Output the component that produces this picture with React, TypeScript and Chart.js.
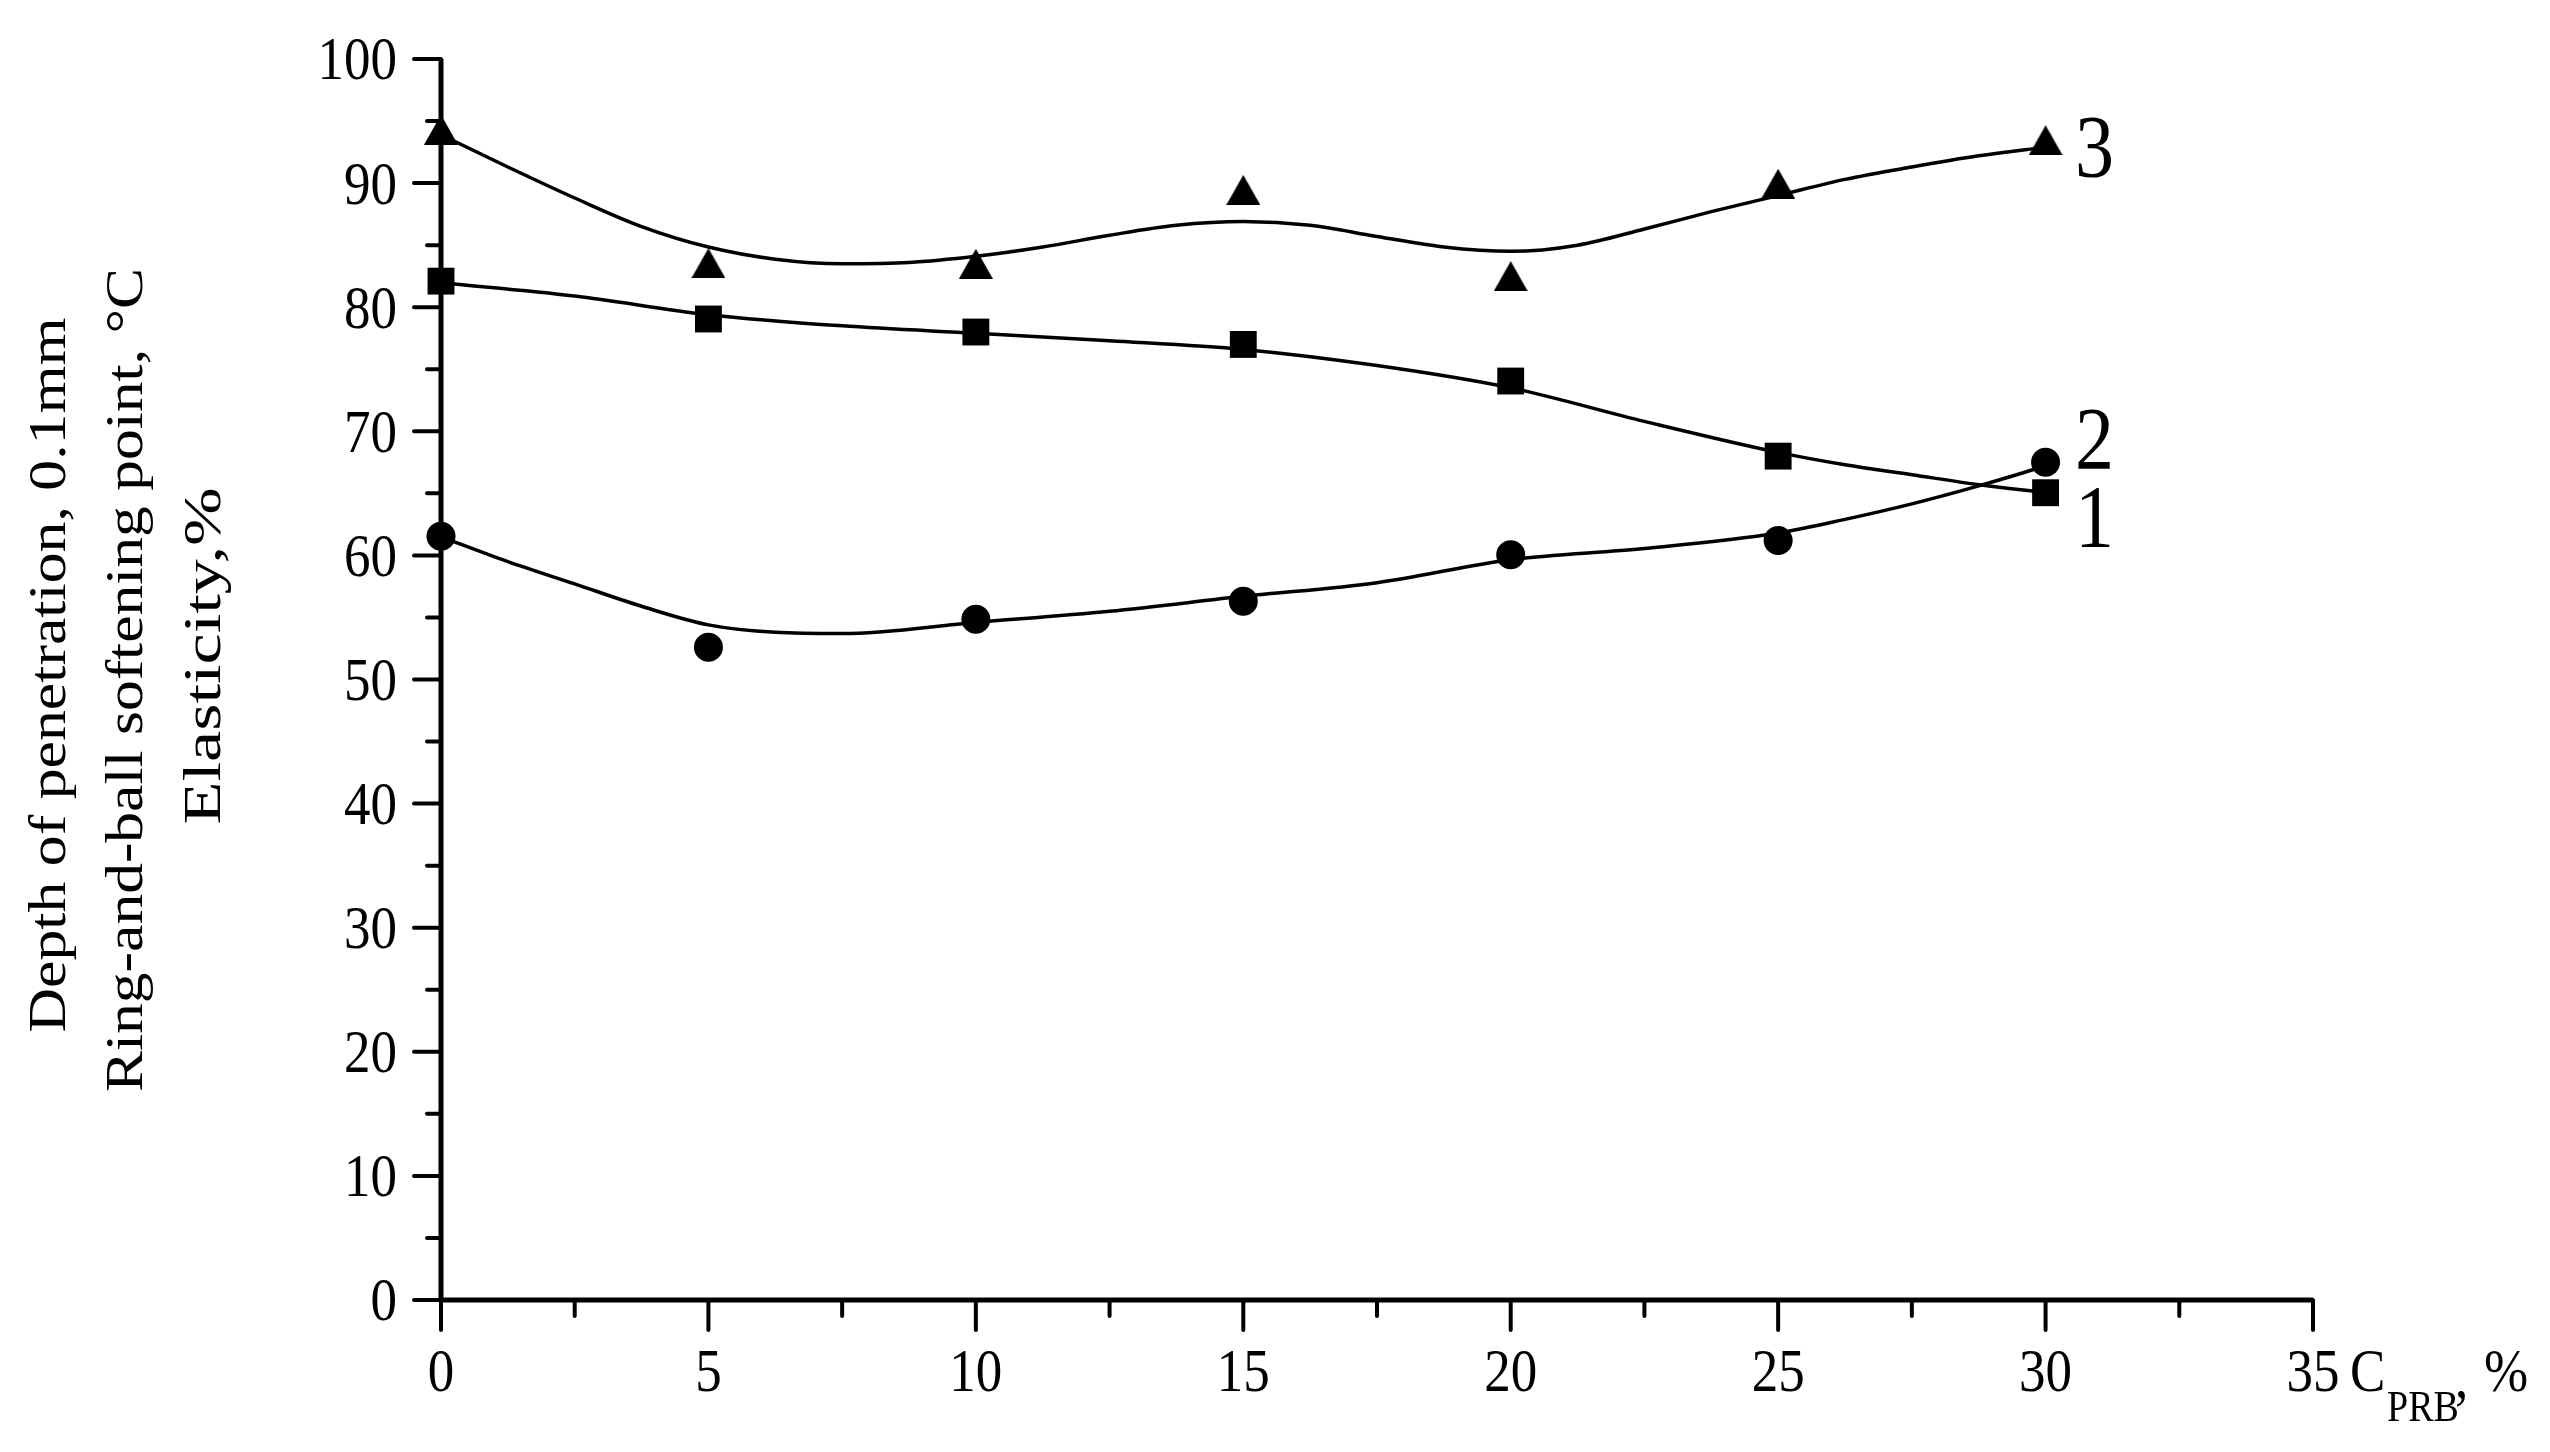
import React, { useEffect, useRef } from "react";
import { Chart, registerables } from "chart.js";

Chart.register(...registerables);

// ---- data ----
const xValues = [0, 5, 10, 15, 20, 25, 30];
// 1 – squares
const series1 = [82.1, 79.05, 78.0, 77.0, 74.05, 68.0, 65.05];
// 2 – circles
const series2 = [61.55, 52.6, 54.85, 56.3, 60.05, 61.2, 67.5];
// 3 – triangles
const series3 = [94.3, 83.55, 83.5, 89.45, 82.5, 89.95, 93.45];

// fitted curves
const curve1X = [0, 2.5, 5, 7.5, 10, 12.5, 15, 17.5, 20, 22.5, 25, 26.25, 27.5, 28.75, 30];
const curve1Y = [81.97, 80.9, 79.4, 78.5, 77.9, 77.3, 76.6, 75.3, 73.5, 70.8, 68.3, 67.3, 66.5, 65.7, 65.05];

const curve2X = [0, 1.25, 2.5, 3.75, 5, 6.25, 7.5, 10, 12.5, 15, 17.5, 20, 22.5, 25, 26.25, 27.5, 28.75, 30];
const curve2Y = [61.5, 59.5, 57.7, 55.9, 54.4, 53.8, 53.7, 54.6, 55.5, 56.7, 57.8, 59.65, 60.55, 61.8, 62.9, 64.15, 65.6, 67.2];

const curve3X = [0, 1.25, 2.5, 3.75, 5, 6.25, 7.5, 8.75, 10, 11.25, 12.5, 13.75, 15, 16.25, 17.5, 18.75, 20, 21.25, 22.5, 23.75, 25, 26.25, 27.5, 28.75, 30];
const curve3Y = [93.9, 91.3, 88.8, 86.5, 84.85, 83.87, 83.5, 83.6, 84.1, 84.85, 85.8, 86.6, 86.9, 86.6, 85.7, 84.85, 84.5, 85.0, 86.3, 87.7, 89.0, 90.3, 91.3, 92.2, 92.9];

const xTicks = [0, 5, 10, 15, 20, 25, 30, 35];
const yTicks = [0, 10, 20, 30, 40, 50, 60, 70, 80, 90, 100];

const yTitleLines = [
  "Depth of penetration, 0.1mm",
  "Ring-and-ball softening point, \u00B0C",
  "Elasticity,%",
];
const curveLabels = ["1", "2", "3"];
const curveLabelPos = [
  { x: 30.55, y: 60.76 },
  { x: 30.55, y: 67.04 },
  { x: 30.55, y: 90.57 },
];

const FONT = "'Liberation Serif', 'Times New Roman', Times, serif";
const SY = 1.14;

function pts(xs: number[], ys: number[]) {
  return xs.map((x, i) => ({ x, y: ys[i] }));
}

function text(
  ctx: CanvasRenderingContext2D,
  s: string,
  x: number,
  y: number,
  size: number,
  align: CanvasTextAlign
) {
  ctx.save();
  ctx.translate(x, y);
  ctx.scale(1, SY);
  ctx.font = `${size}px ${FONT}`;
  ctx.textAlign = align;
  ctx.textBaseline = "alphabetic";
  ctx.fillStyle = "#000";
  ctx.fillText(s, 0, 0);
  ctx.restore();
}

const axesPlugin = {
  id: "axesPlugin",
  beforeDatasetsDraw(chart: any) {
    const ctx: CanvasRenderingContext2D = chart.ctx;
    const xs = chart.scales.x;
    const ys = chart.scales.y;
    const x0 = xs.getPixelForValue(0);
    const x35 = xs.getPixelForValue(35);
    const y0 = ys.getPixelForValue(0);
    const y100 = ys.getPixelForValue(100);
    ctx.save();
    ctx.strokeStyle = "#000";
    ctx.lineWidth = 5;
    ctx.lineCap = "butt";
    ctx.beginPath();
    ctx.moveTo(x0, y100);
    ctx.lineTo(x0, y0);
    ctx.moveTo(x0, y0);
    ctx.lineTo(x35, y0);
    ctx.stroke();
    ctx.lineWidth = 4;
    ctx.lineCap = "round";
    ctx.beginPath();
    for (let v = 0; v <= 35.001; v += 2.5) {
      const px = xs.getPixelForValue(v);
      const major = Math.abs(v / 5 - Math.round(v / 5)) < 1e-6;
      ctx.moveTo(px, y0);
      ctx.lineTo(px, y0 + (major ? 30 : 16));
    }
    for (let v = 0; v <= 100.001; v += 5) {
      const py = ys.getPixelForValue(v);
      const major = v % 10 === 0;
      ctx.moveTo(x0, py);
      ctx.lineTo(x0 - (major ? 27 : 14), py);
    }
    ctx.stroke();
    ctx.restore();
  },
  afterDraw(chart: any) {
    const ctx: CanvasRenderingContext2D = chart.ctx;
    const xs = chart.scales.x;
    const ys = chart.scales.y;
    const x0 = xs.getPixelForValue(0);
    const y0 = ys.getPixelForValue(0);
    const tf = 53;
    // y tick labels
    yTicks.forEach((v) => {
      const py = ys.getPixelForValue(v);
      text(ctx, String(v), x0 - 44, py + 0.338 * tf * SY, tf, "right");
    });
    // x tick labels
    xTicks.forEach((v) => {
      const px = xs.getPixelForValue(v);
      text(ctx, String(v), px, y0 + 91, tf, "center");
    });
    // x axis title
    text(ctx, "C", 2350, y0 + 91, tf, "left");
    text(ctx, "PRB", 2387, y0 + 121, 38, "left");
    text(ctx, ",", 2455, y0 + 97, tf, "left");
    text(ctx, "%", 2484, y0 + 91, tf, "left");
    // y axis title (rotated), each line fitted to its measured length
    const baselines = [65, 142, 220];
    const centers = [675, 680, 656];
    const lengths = [715, 824, 337];
    yTitleLines.forEach((s, i) => {
      ctx.save();
      ctx.font = `53px ${FONT}`;
      const w = ctx.measureText(s).width || 1;
      ctx.translate(baselines[i], centers[i]);
      ctx.rotate(-Math.PI / 2);
      ctx.scale(lengths[i] / w, 1);
      ctx.textAlign = "center";
      ctx.textBaseline = "alphabetic";
      ctx.fillStyle = "#000";
      ctx.fillText(s, 0, 0);
      ctx.restore();
    });
    // curve labels
    curveLabels.forEach((s, i) => {
      const p = curveLabelPos[i];
      text(ctx, s, xs.getPixelForValue(p.x), ys.getPixelForValue(p.y), 78, "left");
    });
  },
};

export default function App() {
  const ref = useRef<HTMLCanvasElement | null>(null);
  useEffect(() => {
    let chart: Chart | null = null;
    let cancelled = false;
    const build = () => {
      if (cancelled || !ref.current) return;
      const tri = document.createElement("canvas");
      tri.width = 34;
      tri.height = 30;
      const tc = tri.getContext("2d")!;
      tc.fillStyle = "#000";
      tc.beginPath();
      tc.moveTo(0, 30);
      tc.lineTo(17, 0);
      tc.lineTo(34, 30);
      tc.closePath();
      tc.fill();

      const markerCommon = {
        showLine: false,
        backgroundColor: "#000",
        borderColor: "#000",
        borderWidth: 0,
        clip: false as any,
        order: 0,
      };
      const curveCommon = {
        showLine: true,
        pointRadius: 0,
        borderColor: "#000",
        borderWidth: 3.5,
        cubicInterpolationMode: "monotone" as const,
        clip: false as any,
        order: 1,
        fill: false,
      };

      chart = new Chart(ref.current, {
        type: "scatter",
        data: {
          datasets: [
            { ...markerCommon, label: "1", data: pts(xValues, series1), pointStyle: "rect", pointRadius: 19 },
            { ...markerCommon, label: "2", data: pts(xValues, series2), pointStyle: "circle", pointRadius: 14.5 },
            { ...markerCommon, label: "3", data: pts(xValues, series3), pointStyle: tri as any, pointRadius: 15 },
            { ...curveCommon, label: "fit1", data: pts(curve1X, curve1Y) },
            { ...curveCommon, label: "fit2", data: pts(curve2X, curve2Y) },
            { ...curveCommon, label: "fit3", data: pts(curve3X, curve3Y) },
          ] as any,
        },
        options: {
          responsive: false,
          animation: false,
          devicePixelRatio: 1,
          layout: { padding: { top: 59, right: 237, left: 0, bottom: 0 } },
          plugins: { legend: { display: false }, tooltip: { enabled: false } },
          events: [],
          scales: {
            x: {
              type: "linear",
              min: 0,
              max: 35,
              ticks: { display: false, stepSize: 5 },
              grid: { display: false },
              border: { display: false },
              afterFit: (s: any) => {
                s.height = 152;
              },
            },
            y: {
              type: "linear",
              min: 0,
              max: 100,
              ticks: { display: false, stepSize: 10 },
              grid: { display: false },
              border: { display: false },
              afterFit: (s: any) => {
                s.width = 441;
              },
            },
          },
        },
        plugins: [axesPlugin],
      });
    };
    const fonts: any = (document as any).fonts;
    if (fonts && fonts.load) {
      Promise.all([
        fonts.load("53px 'Liberation Serif'", "0123456789CPRB%"),
        fonts.load("78px 'Liberation Serif'", "123"),
      ])
        .catch(() => null)
        .then(() => build());
    } else {
      build();
    }
    return () => {
      cancelled = true;
      if (chart) chart.destroy();
    };
  }, []);

  return (
    <div style={{ position: "absolute", left: 0, top: 0, width: 2550, height: 1452, background: "#fff" }}>
      <span style={{ fontFamily: "'Liberation Serif'", position: "absolute", left: -9999, top: 0 }}>0</span>
      <canvas ref={ref} width={2550} height={1452} style={{ display: "block" }} />
    </div>
  );
}
